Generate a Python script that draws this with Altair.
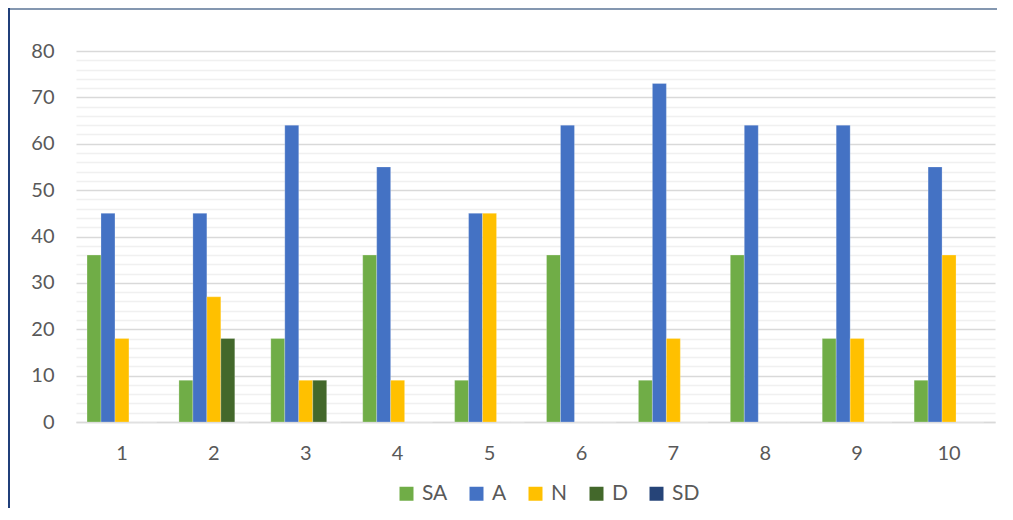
import altair as alt
import pandas as pd

questions = ["1", "2", "3", "4", "5", "6", "7", "8", "9", "10"]
series_names = ["SA", "A", "N", "D", "SD"]
series_colors = ["#70AD47", "#4472C4", "#FFC000", "#43682B", "#264478"]

sa = [36, 9, 18, 36, 9, 36, 9, 36, 18, 9]
a = [45, 45, 64, 55, 45, 64, 73, 64, 64, 55]
n = [18, 27, 9, 9, 45, 0, 18, 0, 18, 36]
d = [0, 18, 9, 0, 0, 0, 0, 0, 0, 0]
sd = [0, 0, 0, 0, 0, 0, 0, 0, 0, 0]

y_ticks = [0, 2, 4, 6, 8, 10, 12, 14, 16, 18, 20, 22, 24, 26, 28, 30, 32, 34, 36, 38,
           40, 42, 44, 46, 48, 50, 52, 54, 56, 58, 60, 62, 64, 66, 68, 70, 72, 74, 76, 78, 80]

rows = []
for name, vals in zip(series_names, [sa, a, n, d, sd]):
    for q, v in zip(questions, vals):
        rows.append({"q": q, "series": name, "value": v})
df = pd.DataFrame(rows)

FONT = "Lato"
TXT = "#595959"

bars = alt.Chart(df).mark_bar(stroke="#ffffff", strokeWidth=0.4, strokeOpacity=0.6).encode(
    x=alt.X("q:N", sort=questions, title=None,
            scale=alt.Scale(paddingInner=0.24, paddingOuter=0.12),
            axis=alt.Axis(labelAngle=0, ticks=False, tickSize=0, labelPadding=21,
                          domain=True, domainColor="#d9d9d9", domainWidth=1.5,
                          labelFont=FONT, labelFontSize=20, labelColor=TXT)),
    xOffset=alt.XOffset("series:N", sort=series_names,
                        scale=alt.Scale(paddingInner=0, paddingOuter=0)),
    y=alt.Y("value:Q", title=None,
            scale=alt.Scale(domain=[0, 80], nice=False),
            axis=alt.Axis(values=y_ticks, ticks=False, tickSize=0, domain=False,
                          labelPadding=22,
                          labelExpr="datum.value % 10 === 0 ? datum.label : ''",
                          gridColor={"condition": {"test": "datum.value % 10 === 0", "value": "#d9d9d9"},
                                     "value": "#f0f0f0"},
                          gridWidth=1.3,
                          labelFont=FONT, labelFontSize=20, labelColor=TXT)),
    color=alt.Color("series:N",
                    scale=alt.Scale(domain=series_names, range=series_colors),
                    legend=alt.Legend(title=None, orient="none", direction="horizontal",
                                      legendX=320, legendY=432,
                                      symbolType="square", symbolSize=196,
                                      symbolStrokeWidth=0, symbolOpacity=1,
                                      labelFont=FONT, labelFontSize=21, labelColor=TXT,
                                      labelOffset=5, columnPadding=18)),
)

frame_df = pd.DataFrame({"k": [0]})
top_line = alt.Chart(frame_df).mark_rect(color="#8497b0", strokeWidth=0).encode(
    x=alt.value(-68), x2=alt.value(921), y=alt.value(-43), y2=alt.value(-41))
left_line = alt.Chart(frame_df).mark_rect(color="#203f7a", strokeWidth=0).encode(
    x=alt.value(-68), x2=alt.value(-66), y=alt.value(-43), y2=alt.value(460))

chart = alt.layer(bars, top_line, left_line).properties(
    width=919, height=371,
    padding={"left": 68, "top": 43, "right": 2, "bottom": 86},
    autosize=alt.AutoSizeParams(type="none"),
).configure_view(stroke=None)

chart.save("out.html", embed_options={"renderer": "svg", "actions": False})
